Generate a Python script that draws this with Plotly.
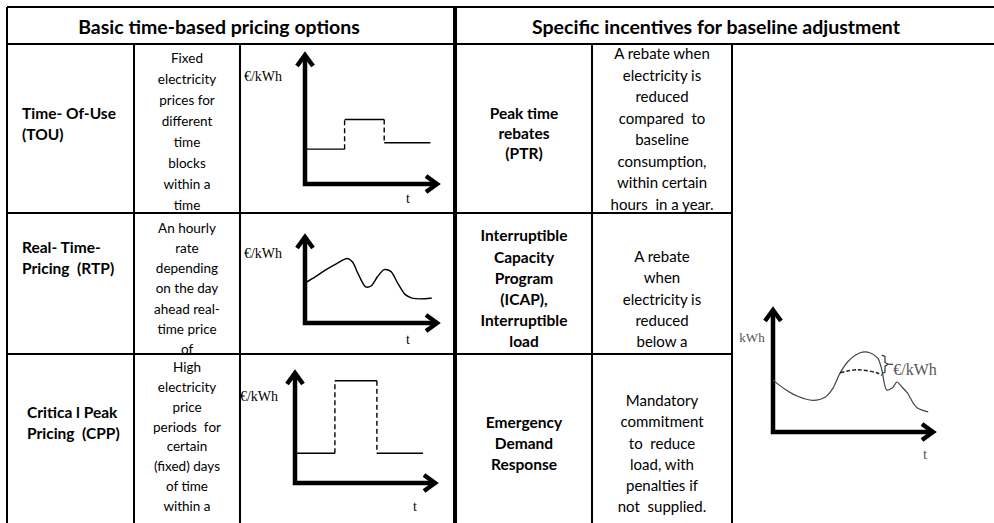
import plotly.graph_objects as go

W, H = 994, 523
FONT = "Lato"
SERIF = "Liberation Serif"

# ---- table text ----
header_left = "Basic time-based pricing options"
header_right = "Specific incentives for baseline adjustment"

left_names = [
    ["Time- Of-Use", "(TOU)"],
    ["Real- Time-", "Pricing  (RTP)"],
    ["Critica l Peak", "Pricing  (CPP)"],
]
left_desc = [
    ["Fixed", "electricity", "prices for", "different", "time", "blocks", "within a", "time"],
    ["An hourly", "rate", "depending", "on the day", "ahead real-", "time price", "of"],
    ["High", "electricity", "price", "periods  for", "certain", "(fixed) days", "of time", "within a"],
]
right_names = [
    ["Peak time", "rebates", "(PTR)"],
    ["Interruptible", "Capacity", "Program", "(ICAP),", "Interruptible", "load"],
    ["Emergency", "Demand", "Response"],
]
right_desc = [
    ["A rebate when", "electricity is", "reduced", "compared  to", "baseline",
     "consumption,", "within certain", "hours  in a year."],
    ["A rebate", "when", "electricity is", "reduced", "below a"],
    ["Mandatory", "commitment", "to  reduce", "load, with", "penalties if", "not  supplied."],
]

# ---- diagram values (time 0-10, value 0-10) ----
tou_t = [0, 3.0, 6.0, 9.5]
tou_price = [2.7, 5.0, 3.2]

rtp_t = [0, 0.8, 1.6, 2.4, 3.2, 3.6, 4.0, 4.6, 5.0, 5.5, 6.0, 6.5, 7.0, 7.6, 8.1, 8.7, 9.6]
rtp_price = [4.65, 5.4, 6.2, 6.9, 7.5, 7.1, 5.8, 4.2, 4.3, 5.4, 6.2, 6.0, 4.7, 3.3, 2.9, 2.8, 2.9]

cpp_t = [0, 2.85, 5.85, 9.15]
cpp_price = [2.7, 9.3, 2.7]

load_t = [0, 0.75, 1.5, 2.5, 3.25, 3.75, 4.2, 4.7, 5.45, 6.05, 6.55, 6.8, 7.1, 7.45, 7.75,
          8.05, 8.4, 8.75, 9.05, 9.7]
load_kwh = [4.25, 3.5, 2.95, 2.6, 2.85, 3.6, 4.85, 5.8, 6.5, 6.5, 6.05, 5.1, 3.45, 3.6, 4.1,
            3.7, 3.2, 2.4, 1.95, 1.65]
base_t = [4.2, 5.25, 6.5, 6.8]
base_kwh = [4.85, 5.1, 4.85, 4.65]
brace_t = 6.9
brace_kwh = [6.3, 4.8]

# ---- layout (pixel geometry) ----
frames = {
    "tou": ((305, 184), (437, 55)),
    "rtp": ((305, 323), (437, 237)),
    "cpp": ((295, 483), (435, 373)),
    "dr": ((773, 432), (933, 310)),
}
DY = 2.5  # text baseline nudge

fig = go.Figure()


def add_text(xs, ys, texts, size, bold=False, pos="middle center", family=FONT, color="black"):
    fig.add_trace(go.Scatter(
        x=xs, y=[v + DY for v in ys], text=texts, mode="text", textposition=pos, hoverinfo="skip",
        textfont=dict(family=family, size=size, color=color, weight="bold" if bold else "normal"),
        showlegend=False, cliponaxis=False, xaxis="x", yaxis="y"))


def add_block(blocks, anchors, size, bold, pos):
    xs, ys, ts = [], [], []
    for lines, (x, y0, dy) in zip(blocks, anchors):
        for i, line in enumerate(lines):
            xs.append(x)
            ys.append(y0 + i * dy)
            ts.append(line)
    add_text(xs, ys, ts, size, bold, pos)


add_text([219, 716], [27, 27], [header_left, header_right], 19.5, bold=True)
add_block(left_names, [(22, 113, 20.5), (22, 247, 21), (27, 412, 20.5)], 15.5, True, "middle right")
add_block(left_desc, [(187, 57, 21), (187, 227, 20.2), (187, 366, 19.9)], 13.5, False, "middle center")
add_block(right_names, [(524, 113, 20), (524, 235, 21.2), (524, 422, 21)], 15.5, True, "middle center")
add_block(right_desc, [(662, 53, 21.5), (662, 256, 21.2), (662, 400, 21.2)], 15, False, "middle center")

# diagram axis labels
add_text([263, 263, 259], [75, 252, 395], ["€/kWh"] * 3, 14, family=SERIF)
add_text([408, 408, 415], [197, 338, 505], ["t"] * 3, 14, family=SERIF)
add_text([752, 915, 925], [336, 368, 453], ["kWh", "€/kWh", "t"], [13, 16, 15], family=SERIF, color="#555")

fig.update_layout(
    xaxis=dict(range=[0, W], domain=[0, 1], visible=False, fixedrange=True),
    yaxis=dict(range=[H, 0], domain=[0, 1], visible=False, fixedrange=True),
)

PAD = 14
for n, (key, ((ox, oy), (tx, ty))) in enumerate(frames.items(), start=2):
    ux = (tx - ox) / 10
    uy = (oy - ty) / 10
    fig.update_layout({
        f"xaxis{n}": dict(domain=[(ox - PAD) / W, (tx + PAD) / W], range=[-PAD / ux, 10 + PAD / ux],
                          visible=False, fixedrange=True, anchor=f"y{n}"),
        f"yaxis{n}": dict(domain=[1 - (oy + PAD) / H, 1 - (ty - PAD) / H], range=[-PAD / uy, 10 + PAD / uy],
                          visible=False, fixedrange=True, anchor=f"x{n}"),
    })
    ax = dict(xaxis=f"x{n}", yaxis=f"y{n}", mode="lines", showlegend=False, hoverinfo="skip")
    fig.add_trace(go.Scatter(x=[0, 0, 10], y=[10, 0, 0], line=dict(color="black", width=4.5), **ax))
    fig.add_trace(go.Scatter(x=[10 - 11 / ux, 10, 10 - 11 / ux], y=[8 / uy, 0, -8 / uy],
                             line=dict(color="black", width=4.5), **ax))
    fig.add_trace(go.Scatter(x=[-8 / ux, 0, 8 / ux], y=[10 - 11 / uy, 10, 10 - 11 / uy],
                             line=dict(color="black", width=4.5), **ax))


def add_steps(n, t, v):
    sx, sy, dx, dy = [], [], [], []
    for i, lvl in enumerate(v):
        sx += [t[i], t[i + 1], None]
        sy += [lvl, lvl, None]
        if i + 1 < len(v):
            dx += [t[i + 1], t[i + 1], None]
            dy += [lvl, v[i + 1], None]
    common = dict(xaxis=f"x{n}", yaxis=f"y{n}", mode="lines", showlegend=False, hoverinfo="skip")
    fig.add_trace(go.Scatter(x=sx, y=sy, line=dict(color="black", width=1.4), **common))
    fig.add_trace(go.Scatter(x=dx, y=dy, line=dict(color="black", width=1.4, dash="5px,3px"), **common))


add_steps(2, tou_t, tou_price)
fig.add_trace(go.Scatter(x=rtp_t, y=rtp_price, xaxis="x3", yaxis="y3", mode="lines",
                         line=dict(color="black", width=1.4, shape="spline", smoothing=0.9),
                         showlegend=False, hoverinfo="skip"))
add_steps(4, cpp_t, cpp_price)

fig.add_trace(go.Scatter(x=load_t, y=load_kwh, xaxis="x5", yaxis="y5", mode="lines",
                         line=dict(color="#444", width=1.2, shape="spline", smoothing=0.8),
                         showlegend=False, hoverinfo="skip"))
fig.add_trace(go.Scatter(x=base_t, y=base_kwh, xaxis="x5", yaxis="y5", mode="lines",
                         line=dict(color="#222", width=1.5, dash="4px,2px", shape="spline"),
                         showlegend=False, hoverinfo="skip"))
mid = sum(brace_kwh) / 2
bx = [brace_t - 0.1, brace_t + 0.1, brace_t + 0.1, brace_t + 0.3, brace_t + 0.1, brace_t + 0.1, brace_t - 0.1,
      None, brace_t + 0.3, brace_t + 0.6]
by = [brace_kwh[0], brace_kwh[0] - 0.1, mid + 0.15, mid, mid - 0.15, brace_kwh[1] + 0.1, brace_kwh[1],
      None, mid, mid]
fig.add_trace(go.Scatter(x=bx, y=by, xaxis="x5", yaxis="y5", mode="lines",
                         line=dict(color="#333", width=1.2), showlegend=False, hoverinfo="skip"))

# ---- table grid ----
shapes = []
# white covers for text overflowing into the next row
for x0, x1, y0, y1 in [(136, 238, 214, 221), (594, 730, 214, 221), (136, 238, 355, 361)]:
    shapes.append(dict(type="rect", xref="x", yref="y", x0=x0, x1=x1, y0=y0, y1=y1,
                       fillcolor="white", line=dict(width=0), layer="above"))
hlines = [(7, 7, 994), (44, 7, 994), (213, 7, 732), (354, 7, 732)]
vlines = [(7, 7, H, 2), (134, 44, H, 2), (240, 44, H, 2), (455, 7, H, 4), (592, 44, H, 2), (732, 44, H, 2)]
for y, x0, x1 in hlines:
    shapes.append(dict(type="line", xref="x", yref="y", x0=x0, x1=x1, y0=y, y1=y,
                       line=dict(color="black", width=2), layer="above"))
for x, y0, y1, w in vlines:
    shapes.append(dict(type="line", xref="x", yref="y", x0=x, x1=x, y0=y0, y1=y1,
                       line=dict(color="black", width=w), layer="above"))

fig.update_layout(
    width=W, height=H, margin=dict(l=0, r=0, t=0, b=0),
    paper_bgcolor="white", plot_bgcolor="rgba(0,0,0,0)",
    shapes=shapes, showlegend=False,
)

# the page body has a default 8px margin; drop it so the figure sits at the top-left corner
fig.write_html("out.html", config={"displayModeBar": False},
               post_script="document.body.style.margin = '0px';")
